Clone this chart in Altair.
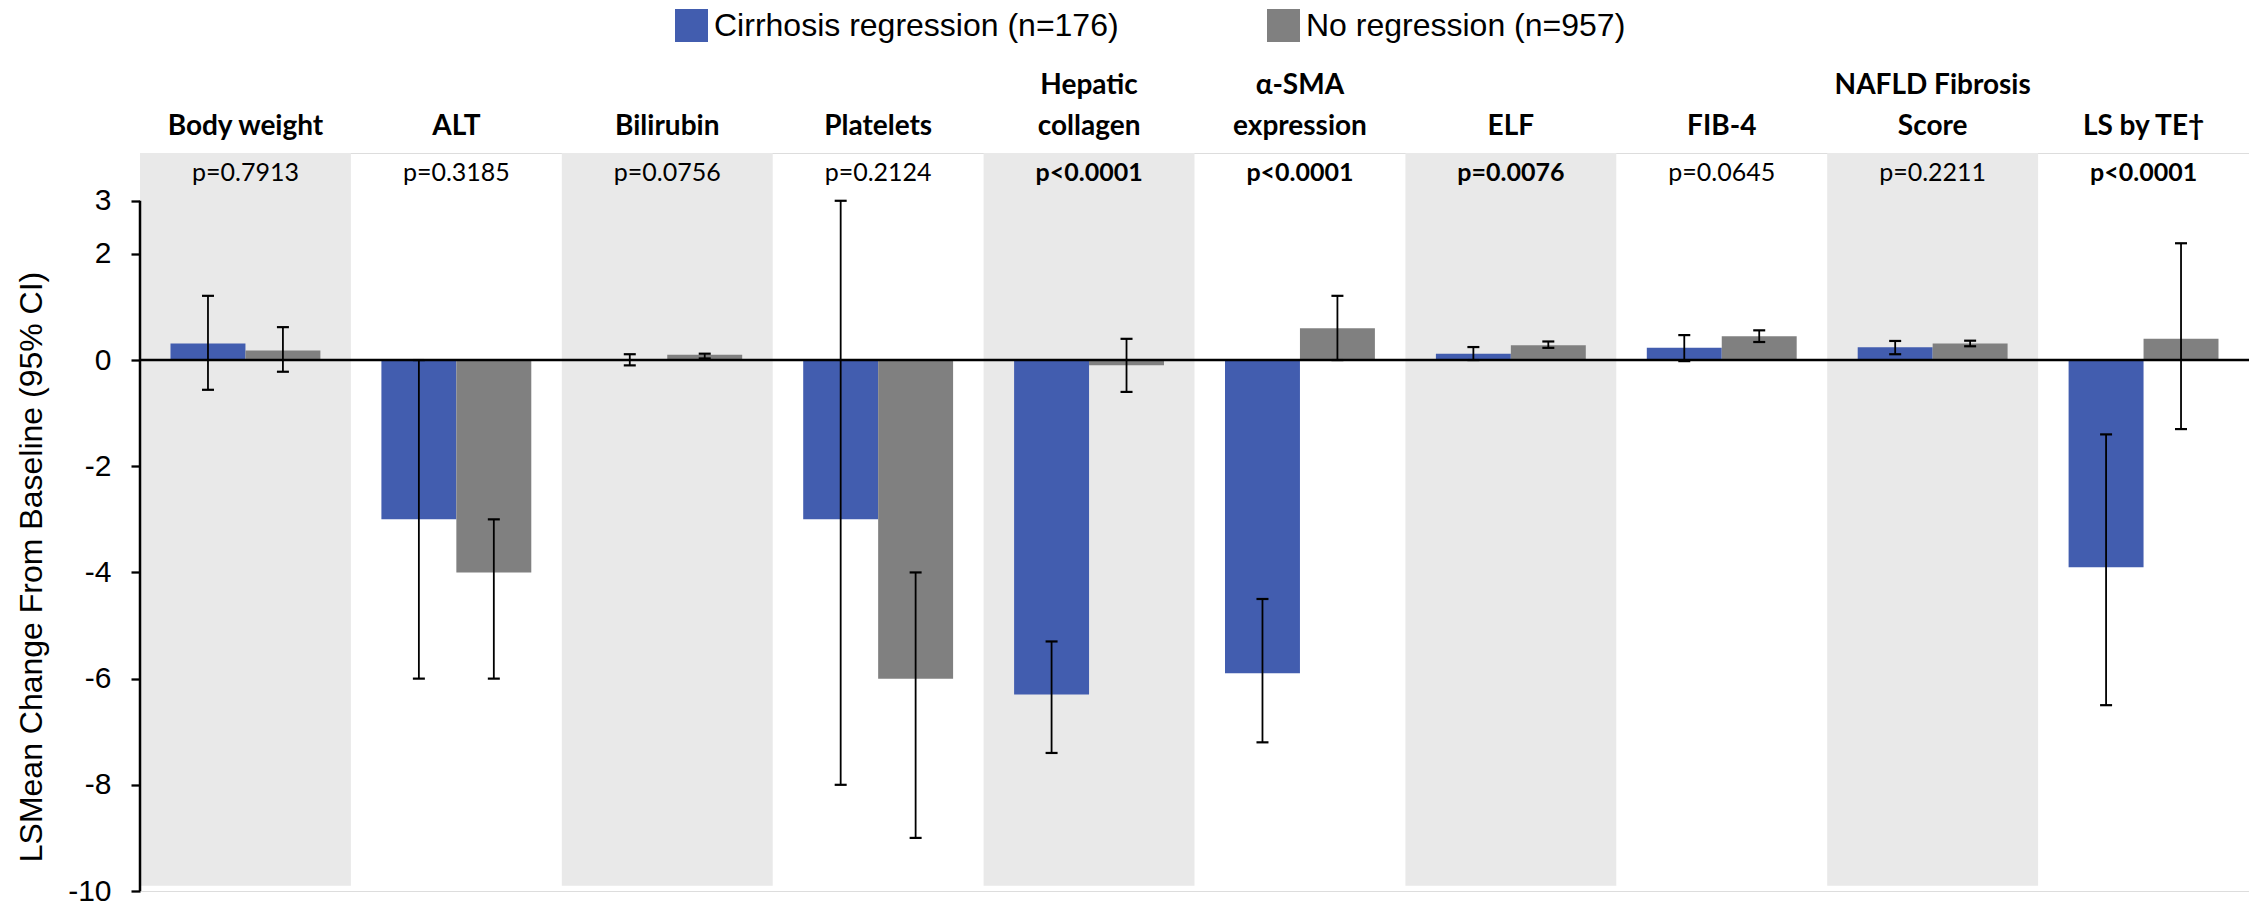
import altair as alt
import pandas as pd

categories = ["Body weight", "ALT", "Bilirubin", "Platelets", "Hepatic collagen",
              "α-SMA expression", "ELF", "FIB-4", "NAFLD Fibrosis Score", "LS by TE†"]
header_line1 = ["", "", "", "", "Hepatic", "α-SMA", "", "", "NAFLD Fibrosis", ""]
header_line2 = ["Body weight", "ALT", "Bilirubin", "Platelets", "collagen",
                "expression", "ELF", "FIB-4", "Score", "LS by TE†"]
p_values = ["p=0.7913", "p=0.3185", "p=0.0756", "p=0.2124", "p<0.0001",
            "p<0.0001", "p=0.0076", "p=0.0645", "p=0.2211", "p<0.0001"]
p_bold = [False, False, False, False, True, True, True, False, False, True]
shaded = [True, False, True, False, True, False, True, False, True, False]

series_names = ["Cirrhosis regression (n=176)", "No regression (n=957)"]
series_colors = ["#425DAF", "#808080"]

regress_mean = [0.31, -3.0, 0.0, -3.0, -6.3, -5.9, 0.12, 0.23, 0.24, -3.9]
regress_lo = [-0.56, -6.0, -0.1, -8.0, -7.4, -7.2, 0.0, -0.02, 0.11, -6.5]
regress_hi = [1.21, 0.0, 0.11, 3.0, -5.3, -4.5, 0.245, 0.47, 0.36, -1.4]
noreg_mean = [0.18, -4.0, 0.1, -6.0, -0.1, 0.6, 0.28, 0.45, 0.31, 0.4]
noreg_lo = [-0.22, -6.0, 0.03, -9.0, -0.6, 0.0, 0.23, 0.34, 0.26, -1.3]
noreg_hi = [0.62, -3.0, 0.12, -4.0, 0.4, 1.21, 0.35, 0.56, 0.365, 2.2]

y_ticks = [3, 2, 0, -2, -4, -6, -8, -10]
y_title = "LSMean Change From Baseline (95% CI)"

rows = []
for i, c in enumerate(categories):
    rows.append({"category": c, "series": series_names[0], "mean": regress_mean[i],
                 "lo": regress_lo[i], "hi": regress_hi[i]})
    rows.append({"category": c, "series": series_names[1], "mean": noreg_mean[i],
                 "lo": noreg_lo[i], "hi": noreg_hi[i]})
df = pd.DataFrame(rows)

cat_df = pd.DataFrame({"category": categories, "line1": header_line1, "line2": header_line2,
                       "pval": p_values, "bold": p_bold, "shaded": shaded})
band_df = cat_df[cat_df["shaded"]]

W, H = 2109, 738
xscale = alt.Scale(domain=categories, paddingInner=0, paddingOuter=0)
X = alt.X("category:N", sort=categories, scale=xscale, axis=None)
XO = alt.XOffset("series:N", sort=series_names,
                 scale=alt.Scale(domain=series_names, paddingInner=0, paddingOuter=0.407))
yscale = alt.Scale(domain=[-10, 3.9], nice=False, zero=False)
yaxis = alt.Axis(values=y_ticks, title=None, domain=False, grid=False,
                 tickSize=9, tickWidth=2.3, tickColor="black",
                 labelFont="Liberation Sans", labelFontSize=30, labelColor="black",
                 labelPadding=20, labelExpr="'' + datum.value")

bands = alt.Chart(band_df).mark_rect(color="#E9E9E9").encode(
    x=X,
    y=alt.YDatum(3.9, scale=yscale, axis=yaxis, type="quantitative"),
    y2=alt.datum(-9.9),
)

bars = alt.Chart(df).mark_bar().encode(
    x=X, xOffset=XO,
    y=alt.Y("mean:Q", scale=yscale, axis=yaxis),
    y2=alt.datum(0),
    color=alt.Color("series:N", scale=alt.Scale(domain=series_names, range=series_colors),
                    legend=alt.Legend(orient="none", legendX=535, legendY=-144,
                                      direction="horizontal", title=None,
                                      symbolType="square", symbolSize=1089,
                                      symbolStrokeWidth=0, symbolOpacity=1,
                                      labelFont="Liberation Sans", labelFontSize=32,
                                      labelColor="black", labelOffset=6,
                                      columnPadding=148, padding=0, labelLimit=0)),
)

zero_line = alt.Chart(cat_df.head(1)).mark_rule(color="black", strokeWidth=2.5).encode(
    y=alt.YDatum(0, scale=yscale, axis=yaxis, type="quantitative"),
)

axis_line = alt.Chart(cat_df.head(1)).mark_rule(color="black", strokeWidth=2.5).encode(
    x=alt.value(0),
    y=alt.YDatum(3, scale=yscale, axis=yaxis, type="quantitative"),
    y2=alt.datum(-10),
)

err = alt.Chart(df).mark_rule(color="black", strokeWidth=1.8).encode(
    x=X, xOffset=XO,
    y=alt.Y("lo:Q", scale=yscale, axis=yaxis),
    y2="hi:Q",
)
cap_lo = alt.Chart(df).mark_tick(color="black", orient="horizontal", size=12,
                                 thickness=2.2, opacity=1).encode(
    x=X, xOffset=XO, y=alt.Y("lo:Q", scale=yscale, axis=yaxis))
cap_hi = alt.Chart(df).mark_tick(color="black", orient="horizontal", size=12,
                                 thickness=2.2, opacity=1).encode(
    x=X, xOffset=XO, y=alt.Y("hi:Q", scale=yscale, axis=yaxis))

hdr1 = alt.Chart(cat_df).mark_text(font="Lato", fontSize=28, fontWeight="bold",
                                   color="black", baseline="alphabetic", align="center").encode(
    x=X, y=alt.value(-59), text="line1:N")
hdr2 = alt.Chart(cat_df).mark_text(font="Lato", fontSize=28, fontWeight="bold",
                                   color="black", baseline="alphabetic", align="center").encode(
    x=X, y=alt.value(-18), text="line2:N")
p_reg = alt.Chart(cat_df[~cat_df["bold"]]).mark_text(
    font="Lato", fontSize=25, color="black", baseline="alphabetic", align="center").encode(
    x=X, y=alt.value(28), text="pval:N")
p_b = alt.Chart(cat_df[cat_df["bold"]]).mark_text(
    font="Lato", fontSize=25, fontWeight="bold", color="black",
    baseline="alphabetic", align="center").encode(
    x=X, y=alt.value(28), text="pval:N")

ytitle = alt.Chart(pd.DataFrame({"t": [y_title]})).mark_text(
    font="Liberation Sans", fontSize=32, color="black", angle=270,
    align="center", baseline="alphabetic").encode(
    x=alt.value(-98), y=alt.value(414), text="t:N")

chart = alt.layer(bands, bars, zero_line, axis_line, err, cap_lo, cap_hi,
                  hdr1, hdr2, p_reg, p_b, ytitle).properties(
    width=W, height=H,
    autosize=alt.AutoSizeParams(type="none"),
    padding={"left": 132, "top": 145, "right": 0, "bottom": 20},
).configure_view(stroke=None).configure(background="white")

chart.save("out.html", embed_options={"renderer": "svg", "actions": False})
